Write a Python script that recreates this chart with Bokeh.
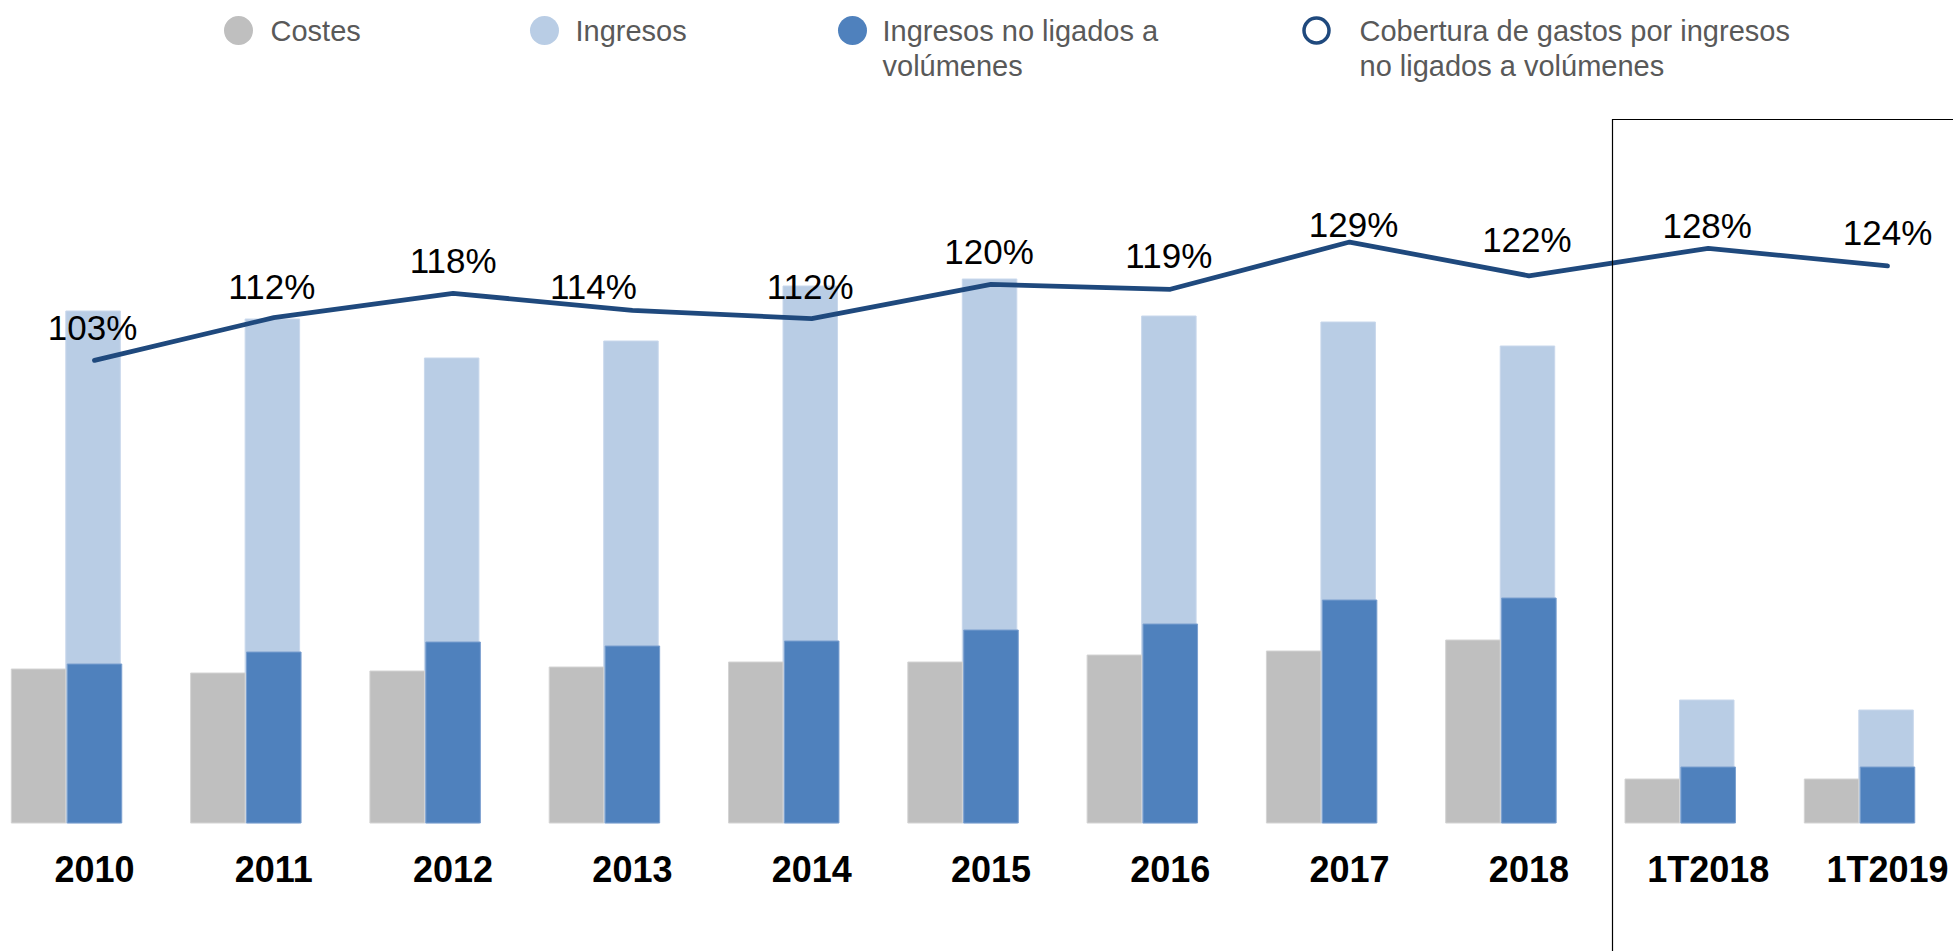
import numpy as np
from bokeh.plotting import figure
from bokeh.models import Range1d, ColumnDataSource
from bokeh.core.properties import value
from bokeh.embed import file_html
from bokeh.resources import INLINE

# ---------------- data ----------------
categories = ["2010", "2011", "2012", "2013", "2014", "2015", "2016", "2017", "2018", "1T2018", "1T2019"]
costes = [154, 150, 152, 156, 161, 161, 168, 172, 183, 44, 44]
ingresos = [512, 504, 465, 482, 537, 544, 507, 501, 477, 123, 113]
ingresos_no_ligados = [159, 171, 181, 177, 182, 193, 199, 223, 225, 56, 56]
cobertura = [102.8, 112.3, 117.7, 113.9, 112.1, 119.7, 118.6, 129.1, 121.6, 127.7, 123.8]
cobertura_labels = [f"{round(v)}%" for v in cobertura]
legend_labels = ["Costes", "Ingresos", "Ingresos no ligados a\nvolúmenes",
                 "Cobertura de gastos por ingresos\nno ligados a volúmenes"]

# ---------------- styles / layout ----------------
C_COST = "#BFBFBF"
C_ING = "#B9CDE5"
C_INL = "#4F81BD"
C_LINE = "#1F497D"
FONT = value("Liberation Sans")

W, H = 1953, 951
BASE = 822.5          # baseline, px from top of figure
PX_PER_PCT = 4.5
CAT_PX = 179.3
FIRST_PX = 94.0
BAR_W = 0.304
GRAY_SHIFT = 0.312

x0 = -FIRST_PX / CAT_PX
x1 = x0 + W / CAT_PX
y_start = -(H - BASE)
y_end = BASE

p = figure(width=W, height=H, x_range=Range1d(x0, x1), y_range=Range1d(y_start, y_end),
           output_backend="svg", toolbar_location=None, min_border=0,
           x_axis_location=None, y_axis_location=None)
p.grid.visible = False
p.outline_line_color = None
p.background_fill_color = "white"
p.border_fill_color = "white"
p.extra_y_ranges = {"pct": Range1d(y_start / PX_PER_PCT, y_end / PX_PER_PCT),
                    "ly": Range1d(H, 0)}
p.extra_x_ranges = {"lx": Range1d(0, W)}

xs = np.arange(len(categories))
src = ColumnDataSource(dict(
    x=xs, xg=xs - GRAY_SHIFT, xl=xs - 0.008,
    costes=costes, ingresos=ingresos, inl=ingresos_no_ligados,
    cob=cobertura, lab=cobertura_labels, cat=categories,
    dx=[-2, -2, 0, -39, -1.5, -2, -1.5, 4, -2, -1, 0],
    dy=[-33, -31.5, -33, -24, -32.5, -33, -33.5, -17.5, -36, -22.5, -33],
    zero=[0] * len(categories),
))

p.vbar(x="xl", top="ingresos", width=BAR_W, bottom=0, source=src,
       fill_color=C_ING, line_color="#C9D8EC", line_width=1)
p.vbar(x="xg", top="costes", width=BAR_W, bottom=0, source=src,
       fill_color=C_COST, line_color="#D4D4D4", line_width=1)
p.vbar(x="x", top="inl", width=BAR_W, bottom=0, source=src,
       fill_color=C_INL, line_color="#7A9FCF", line_width=1)

p.line(x="x", y="cob", source=src, y_range_name="pct", line_color=C_LINE,
       line_width=4.8, line_cap="round", line_join="round")

p.text(x="x", y="cob", text="lab", source=src, y_range_name="pct",
       x_offset="dx", y_offset="dy", text_align="center", text_baseline="middle",
       text_font=FONT, text_font_size="35px", text_color="black")

p.text(x="x", y="zero", text="cat", source=src, y_offset=46,
       text_align="center", text_baseline="middle", text_font=FONT,
       text_font_size="36px", text_font_style="bold", text_color="black")

# quarterly box
BOX_LEFT = x0 + 1612 / CAT_PX
BOX_TOP = BASE - 119
p.line(x=[BOX_LEFT, BOX_LEFT, x1 + 1], y=[y_start - 100, BOX_TOP, BOX_TOP],
       line_color="black", line_width=1.2, line_join="miter")

# legend (drawn in pixel ranges)
leg_mx = [238, 544, 852, 1316]
leg_tx = [270, 575, 882, 1359]
leg_y = 30
leg_dy = 35
p.scatter(x=leg_mx[:3], y=[leg_y] * 3, size=29, marker="circle",
          fill_color=[C_COST, C_ING, C_INL], line_color=None,
          x_range_name="lx", y_range_name="ly")
p.scatter(x=[leg_mx[3]], y=[leg_y], size=25, marker="circle", fill_color="white",
          line_color=C_LINE, line_width=3.5, x_range_name="lx", y_range_name="ly")
tx, ty, tt = [], [], []
for mx, lab in zip(leg_tx, legend_labels):
    for k, line in enumerate(lab.split("\n")):
        tx.append(mx)
        ty.append(leg_y + k * leg_dy)
        tt.append(line)
p.text(x=tx, y=ty, text=tt, x_range_name="lx", y_range_name="ly",
       text_align="left", text_baseline="middle", text_font=FONT,
       text_font_size="29px", text_color="#595959")

open("out.html", "w").write(file_html(p, INLINE))
